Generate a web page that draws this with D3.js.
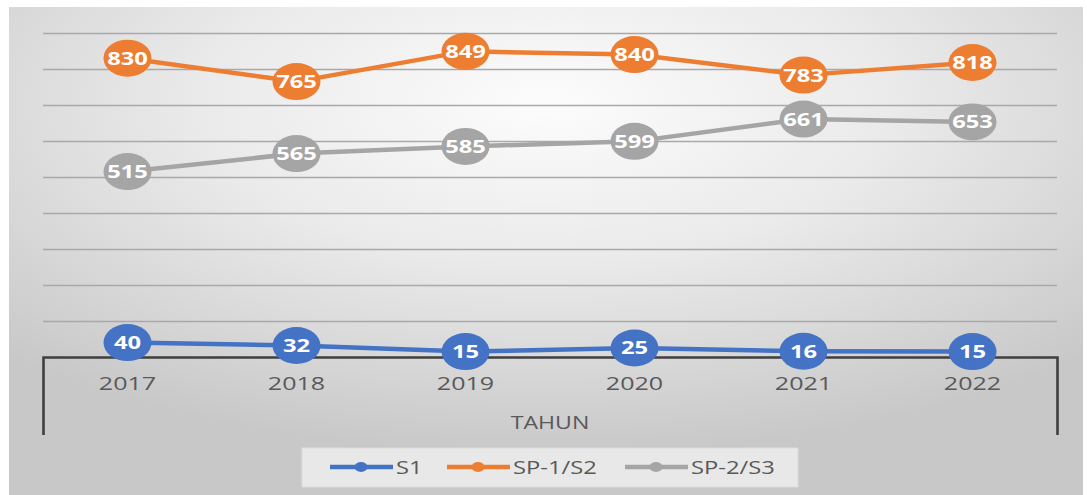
<!DOCTYPE html>
<html>
<head>
<meta charset="utf-8">
<script src="https://d3js.org/d3.v7.min.js"></script>
<style>
body { margin: 0; background: #fff; }
svg { display: block; }
.tick text { font-family: "Open Sans", sans-serif; }
</style>
</head>
<body>
<div id="chart"></div>
<script>
// data
var years = ["2017", "2018", "2019", "2020", "2021", "2022"];
var s1 = [40, 32, 15, 25, 16, 15];
var sp1 = [830, 765, 849, 840, 783, 818];
var sp2 = [515, 565, 585, 599, 661, 653];
var seriesNames = ["S1", "SP-1/S2", "SP-2/S3"];
var seriesColors = ["#4472C4", "#ED7D31", "#A5A5A5"];
var yTicks = [0, 100, 200, 300, 400, 500, 600, 700, 800, 900];

var W = 1087, H = 495;
var plot = {left: 43, right: 1057, top: 33, bottom: 357};
var stretch = 1.32; // picture is squashed wider than tall

var svg = d3.select("#chart").append("svg")
    .attr("width", W)
    .attr("height", H);

var defs = svg.append("defs");
var grad = defs.append("radialGradient")
    .attr("id", "bg")
    .attr("cx", "50%").attr("cy", "20%")
    .attr("r", "72%")
    .attr("fx", "50%").attr("fy", "20%");
grad.append("stop").attr("offset", "0%").attr("stop-color", "#fcfcfc");
grad.append("stop").attr("offset", "45%").attr("stop-color", "#eaeaea");
grad.append("stop").attr("offset", "100%").attr("stop-color", "#c8c8c8");

svg.append("rect")
    .attr("x", 9).attr("y", 7)
    .attr("width", 1074).attr("height", 488)
    .attr("fill", "url(#bg)");

var x = d3.scaleBand().domain(years).range([plot.left, plot.right]);
var y = d3.scaleLinear().domain([0, 900]).range([plot.bottom, plot.top]);

// horizontal grid
svg.append("g")
    .attr("transform", "translate(" + plot.left + ",0)")
    .call(d3.axisLeft(y).tickValues(yTicks.slice(1)).tickSize(-(plot.right - plot.left)).tickFormat(""))
    .call(function(g) {
        g.select(".domain").remove();
        g.selectAll(".tick line").attr("stroke", "#a9a9a9").attr("stroke-width", 1.6);
    });

// category axis, long outer ticks at both ends
var xAxis = svg.append("g")
    .attr("transform", "translate(0," + plot.bottom + ")")
    .call(d3.axisBottom(x).tickSizeInner(0).tickSizeOuter(78).tickPadding(0));
xAxis.select(".domain").attr("stroke", "#3f3f3f").attr("stroke-width", 2.6);
xAxis.selectAll(".tick text")
    .attr("y", 0)
    .attr("dy", 0)
    .attr("transform", "translate(0,33) scale(" + stretch + ",1)")
    .attr("font-size", 19)
    .attr("fill", "#595959");

svg.append("text")
    .attr("transform", "translate(" + ((plot.left + plot.right) / 2) + ",429) scale(" + stretch + ",1)")
    .attr("text-anchor", "middle")
    .attr("font-family", "Open Sans, sans-serif")
    .attr("font-size", 17.5)
    .attr("fill", "#595959")
    .text("TAHUN");

var series = [s1, sp1, sp2];
var line = d3.line()
    .x(function(d, i) { return x(years[i]) + x.bandwidth() / 2; })
    .y(function(d) { return y(d); });

series.forEach(function(vals, k) {
    svg.append("path")
        .datum(vals)
        .attr("fill", "none")
        .attr("stroke", seriesColors[k])
        .attr("stroke-width", 4.5)
        .attr("stroke-linejoin", "round")
        .attr("d", line);
});

series.forEach(function(vals, k) {
    var g = svg.append("g");
    var pts = g.selectAll("g").data(vals).enter().append("g")
        .attr("transform", function(d, i) {
            return "translate(" + (x(years[i]) + x.bandwidth() / 2) + "," + y(d) + ")";
        });
    pts.append("ellipse")
        .attr("rx", 24).attr("ry", 18.5)
        .attr("fill", seriesColors[k]);
    pts.append("text")
        .attr("transform", "scale(" + stretch + ",1)")
        .attr("text-anchor", "middle")
        .attr("dy", "0.36em")
        .attr("font-family", "Open Sans, sans-serif")
        .attr("font-weight", "bold")
        .attr("font-size", 18)
        .attr("fill", "#fff")
        .text(function(d) { return d; });
});

// legend
var leg = svg.append("g");
leg.append("rect")
    .attr("x", 302).attr("y", 448)
    .attr("width", 496).attr("height", 39)
    .attr("fill", "#e8e8e8")
    .attr("stroke", "#dcdcdc");
var legX = [330, 447, 625];
seriesNames.forEach(function(name, k) {
    var lx = legX[k];
    leg.append("line")
        .attr("x1", lx).attr("x2", lx + 63)
        .attr("y1", 467).attr("y2", 467)
        .attr("stroke", seriesColors[k])
        .attr("stroke-width", 4.5);
    leg.append("ellipse")
        .attr("cx", lx + 31).attr("cy", 467)
        .attr("rx", 6.5).attr("ry", 5)
        .attr("fill", seriesColors[k]);
    leg.append("text")
        .attr("transform", "translate(" + (lx + 66) + ",474) scale(" + stretch + ",1)")
        .attr("font-family", "Open Sans, sans-serif")
        .attr("font-size", 18)
        .attr("fill", "#595959")
        .text(name);
});
</script>
</body>
</html>
